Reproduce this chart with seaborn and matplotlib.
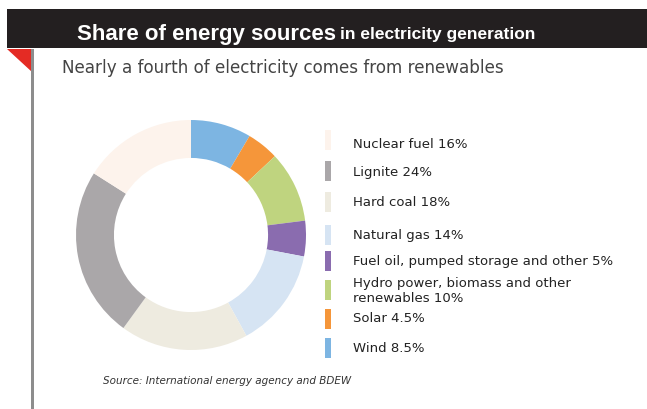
import matplotlib
matplotlib.use("Agg")
import matplotlib.pyplot as plt
import seaborn as sns
from matplotlib.patches import Rectangle, Polygon

sns.set_theme(style="white")
plt.rcParams['font.family'] = ['DejaVu Sans']

# Data (ring order: clockwise from 12 o'clock)
ring_sources = ["Wind", "Solar", "Hydro power, biomass and other renewables",
                "Fuel oil, pumped storage and other", "Natural gas",
                "Hard coal", "Lignite", "Nuclear fuel"]
ring_shares = [8.5, 4.5, 10, 5, 14, 18, 24, 16]
ring_colors = ["#7db5e2", "#f5963a", "#bfd47f", "#8a6caf", "#d6e4f3",
               "#eeebe0", "#aaa7a9", "#fdf3ec"]

# Legend order and labels
legend_labels = ["Nuclear fuel 16%", "Lignite 24%", "Hard coal 18%",
                 "Natural gas 14%", "Fuel oil, pumped storage and other 5%",
                 "Hydro power, biomass and other\nrenewables 10%",
                 "Solar 4.5%", "Wind 8.5%"]
legend_colors = ["#fdf3ec", "#aaa7a9", "#eeebe0", "#d6e4f3", "#8a6caf",
                 "#bfd47f", "#f5963a", "#7db5e2"]

title_main = "Share of energy sources"
title_sub = "in electricity generation"
subtitle = "Nearly a fourth of electricity comes from renewables"
source = "Source: International energy agency and BDEW"

W, H = 647, 410
fig = plt.figure(figsize=(W / 100, H / 100), dpi=100)
fig.patch.set_facecolor("white")

def fx(px):
    return px / W

def fy(py):
    return 1 - py / H

# Header bar
fig.patches.append(Rectangle((fx(7), fy(49)), fx(640), 39 / H,
                             transform=fig.transFigure, facecolor="#231f20",
                             edgecolor="none"))
# Red triangle
fig.patches.append(Polygon([(fx(7), fy(50)), (fx(32), fy(50)), (fx(32), fy(73))],
                           closed=True, transform=fig.transFigure,
                           facecolor="#e42b24", edgecolor="none"))
# Grey vertical rule
fig.patches.append(Rectangle((fx(31), 0), fx(2.5), fy(50),
                             transform=fig.transFigure, facecolor="#8d8d8d",
                             edgecolor="none"))

fig.text(fx(77), fy(40), title_main, color="white", fontsize=16,
         fontweight="bold", family=["Liberation Sans", "DejaVu Sans"],
         va="baseline", ha="left")
fig.text(fx(340), fy(39), title_sub, color="white", fontsize=12.5,
         fontweight="bold", family=["Liberation Sans", "DejaVu Sans"],
         va="baseline", ha="left")
fig.text(fx(62), fy(68), subtitle, color="#444444", fontsize=12.1,
         family=["DejaVu Sans"], va="center", ha="left")

# Donut
cx, cy, r = 191, 236, 115
ax = fig.add_axes([fx(cx - r), fy(cy + r), 2 * r / W, 2 * r / H])
ax.pie(ring_shares, colors=ring_colors, startangle=90, counterclock=False,
       radius=1, wedgeprops=dict(width=0.33, edgecolor="none"))
ax.set_xlim(-1, 1)
ax.set_ylim(-1, 1)
ax.set_aspect("equal")
ax.axis("off")

# Legend
swatch_y = [141, 172, 203, 236, 262, 291, 320, 349]
text_y = [145, 173, 203, 236, 262, 291, 319, 349]
for lab, col, sy, ty in zip(legend_labels, legend_colors, swatch_y, text_y):
    fig.patches.append(Rectangle((fx(325), fy(sy + 10)), fx(6), 20 / H,
                                 transform=fig.transFigure, facecolor=col,
                                 edgecolor="none"))
    fig.text(fx(353), fy(ty), lab, color="#222222", fontsize=9.5,
             family=["DejaVu Sans"], va="center", ha="left", linespacing=1.25)

fig.text(fx(103), fy(381), source, color="#333333", fontsize=7.5,
         style="italic", family=["DejaVu Sans"], va="center", ha="left")

fig.savefig("out.png", dpi=100, facecolor="white")
